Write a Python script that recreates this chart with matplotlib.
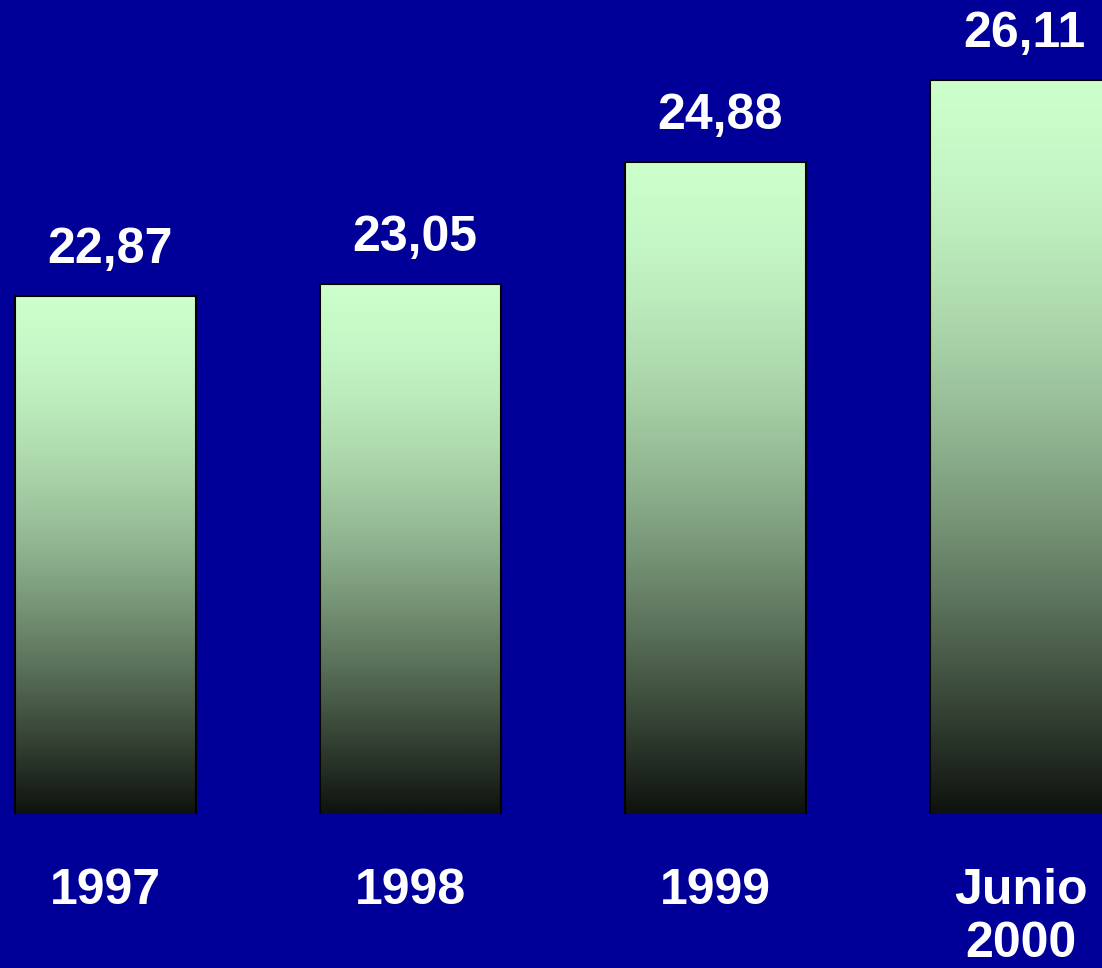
import numpy as np
import matplotlib
matplotlib.use("Agg")
from matplotlib import pyplot as plt

categories = ["1997", "1998", "1999", "Junio\n2000"]
values = [22.87, 23.05, 24.88, 26.11]
value_labels = ["22,87", "23,05", "24,88", "26,11"]

bg = "#000099"
top_col = np.array([0xCC, 0xFF, 0xCC]) / 255.0
bot_col = np.array([0x0E, 0x12, 0x0E]) / 255.0

plt.rcParams['font.family'] = ['Liberation Sans', 'DejaVu Sans']

fig = plt.figure(figsize=(11.02, 9.68), dpi=100)
fig.patch.set_facecolor(bg)
ax = fig.add_axes([0, 0.1591, 1, 0.8409])
ax.set_facecolor(bg)

x = np.arange(len(categories))
bars = ax.bar(x, values, width=0.593, color="none", edgecolor="black", linewidth=1.5, zorder=3)

ax.set_xlim(-0.346, 3.267)
ax.set_ylim(15.08, 27.32)

# vertical gradient inside each bar (dark at bottom, light at top)
t = np.linspace(0, 1, 256).reshape(-1, 1)
s = 0.8 * np.sin(np.pi / 2 * t) + 0.2 * t
grad = bot_col + (top_col - bot_col) * s[..., None]
for b in bars:
    bx, by = b.get_x(), b.get_y()
    bw, bh = b.get_width(), b.get_height()
    im = ax.imshow(grad, extent=[bx, bx + bw, 15.08, by + bh], origin="lower",
                   aspect="auto", zorder=2, interpolation="bilinear")
    im.set_clip_path(b)

for xi, v, lab in zip(x, values, value_labels):
    ax.annotate(lab, (xi, v), xytext=(3, 24), textcoords="offset points",
                ha="center", va="baseline", color="white", fontsize=36, fontweight="bold")

ax.set_xticks(x)
ax.set_xticklabels(categories, color="white", fontsize=36, fontweight="bold", linespacing=1.2)
ax.tick_params(axis="x", length=0, pad=39)
ax.set_yticks([])
for sp in ax.spines.values():
    sp.set_visible(False)

fig.savefig("out.png", dpi=100, facecolor=bg)
